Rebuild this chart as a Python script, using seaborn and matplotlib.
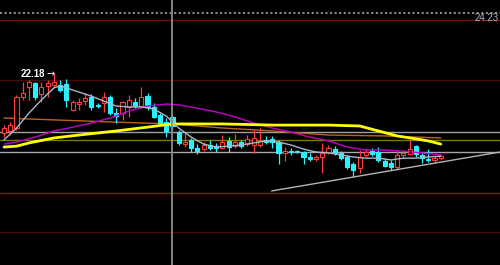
import matplotlib
matplotlib.use("Agg")
import matplotlib.pyplot as plt
import numpy as np
import pandas as pd
import seaborn as sns

# ---------------- data (prices) ----------------
opens = [20.13, 20.20, 20.30, 21.36, 21.70, 21.84, 21.46, 21.74, 21.77, 21.77,
         21.80, 20.91, 21.12, 21.22, 21.36, 21.09, 21.15, 21.36, 20.81, 20.81,
         21.02, 21.19, 21.05, 21.39, 21.02, 20.74, 20.50, 20.68, 20.16, 19.75,
         19.89, 19.62, 19.58, 19.72, 19.68, 19.62, 19.86, 19.68, 19.82, 19.75,
         19.72, 19.72, 19.89, 19.92, 19.82, 19.45, 19.51, 19.51, 19.48, 19.31,
         19.24, 19.31, 19.48, 19.58, 19.45, 19.31, 19.07, 18.93, 19.38, 19.51,
         19.48, 19.17, 19.10, 18.97, 19.38, 19.41, 19.68, 19.38, 19.24, 19.21,
         19.27]
closes = [20.30, 20.40, 21.36, 21.50, 21.87, 21.36, 21.70, 21.84, 21.87, 21.60,
          21.26, 21.19, 21.19, 21.32, 21.02, 21.05, 21.36, 20.81, 20.71, 21.19,
          21.26, 21.05, 21.36, 21.02, 20.68, 20.47, 20.20, 20.37, 19.79, 19.82,
          19.62, 19.51, 19.72, 19.62, 19.62, 19.82, 19.65, 19.82, 19.68, 19.92,
          19.96, 19.86, 19.82, 19.82, 19.45, 19.51, 19.48, 19.48, 19.31, 19.24,
          19.31, 19.45, 19.62, 19.45, 19.27, 18.97, 18.86, 19.31, 19.48, 19.41,
          19.21, 19.00, 18.97, 19.38, 19.45, 19.58, 19.41, 19.27, 19.21, 19.27,
          19.34]
highs = [20.40, 20.50, 21.43, 21.87, 21.94, 21.87, 21.87, 21.94, 22.18, 21.94,
         21.97, 21.26, 21.32, 21.50, 21.46, 21.15, 21.53, 21.43, 20.98, 21.22,
         21.43, 21.32, 21.70, 21.50, 21.15, 20.81, 20.64, 20.78, 20.23, 20.13,
         19.96, 19.75, 19.82, 19.89, 19.79, 20.06, 19.99, 20.09, 19.89, 20.06,
         20.27, 20.30, 20.03, 20.03, 19.89, 19.65, 19.62, 19.55, 19.51, 19.45,
         19.38, 19.79, 19.72, 19.68, 19.51, 19.38, 19.14, 19.55, 19.62, 19.62,
         19.65, 19.27, 19.21, 19.55, 19.55, 19.89, 19.72, 19.45, 19.58, 19.34,
         19.38]
lows = [19.99, 20.06, 20.23, 21.26, 21.26, 21.26, 21.19, 21.36, 21.70, 21.53,
        21.02, 20.88, 20.91, 21.09, 20.91, 20.98, 20.85, 20.74, 20.47, 20.57,
        20.68, 20.98, 20.98, 20.91, 20.64, 20.40, 19.99, 20.23, 19.72, 19.65,
        19.48, 19.41, 19.51, 19.55, 19.48, 19.58, 19.48, 19.62, 19.62, 19.68,
        19.45, 19.65, 19.75, 19.62, 19.07, 19.17, 19.38, 19.45, 19.07, 19.17,
        19.17, 18.76, 19.41, 19.38, 19.21, 18.90, 18.62, 18.76, 19.31, 19.34,
        19.14, 18.97, 18.86, 18.86, 19.27, 19.38, 19.31, 19.10, 19.14, 19.10,
        19.21]

# moving averages (sampled at candle indices)
ma_gray_idx = [0, 2, 4, 6, 8, 9, 10, 12, 14, 16, 18, 20, 22, 24, 26, 28, 30, 32, 34,
               36, 38, 40, 42, 44, 46, 48, 50, 52, 54, 56, 58, 60, 62, 64, 66, 68, 70]
ma_gray = [19.89, 20.30, 20.81, 21.26, 21.67, 21.74, 21.67, 21.53, 21.39, 21.22,
           21.05, 21.02, 21.02, 20.95, 20.71, 20.30, 19.99, 19.75, 19.65, 19.68,
           19.72, 19.79, 19.86, 19.82, 19.72, 19.58, 19.48, 19.45, 19.38, 19.31,
           19.27, 19.27, 19.21, 19.27, 19.27, 19.31, 19.34]
ma_magenta_idx = [0, 2, 5, 8, 11, 14, 17, 20, 23, 26, 28, 31, 34, 37, 40, 43, 46, 49,
                  52, 55, 58, 61, 64, 67, 70]
ma_magenta = [19.75, 19.82, 19.99, 20.20, 20.33, 20.47, 20.64, 20.88, 21.05, 21.12,
              21.09, 20.98, 20.85, 20.68, 20.47, 20.30, 20.16, 19.99, 19.86, 19.65,
              19.55, 19.55, 19.51, 19.45, 19.38]
ma_yellow_idx = [0, 2, 4, 8, 12, 18, 23, 27, 35, 43, 52, 57, 60, 63, 66, 68, 70]
ma_yellow = [19.65, 19.68, 19.79, 19.96, 20.06, 20.20, 20.33, 20.44, 20.44, 20.40,
             20.40, 20.37, 20.20, 20.03, 19.93, 19.86, 19.75]
ma_orange_idx = [0, 9, 18, 27, 35, 43, 52, 61, 70]
ma_orange = [20.64, 20.57, 20.50, 20.44, 20.30, 20.20, 20.06, 20.03, 19.96]

# horizontal reference levels
level_prices = [24.23, 23.99, 21.94, 18.08, 16.75, 20.16, 19.89, 19.48]
level_colors = ['#8a8a8a', '#6e0c0c', '#4a0808', '#9a1010', '#4a0808',
                '#a0a0a0', '#7a7a00', '#a8a8a8']
level_styles = ['dotted', 'solid', 'solid', 'solid', 'solid', 'solid', 'solid', 'solid']

# trend line and cross-hair
trend_x = [42.9, 79.5]
trend_y = [18.15, 19.48]
cursor_idx = 27
high_label = "22.18"
last_label = "24.23"

# ---------------- drawing ----------------
sns.set_style("dark", {"axes.facecolor": "black", "figure.facecolor": "black"})
plt.rcParams['font.family'] = ['Liberation Sans', 'DejaVu Sans']

fig = plt.figure(figsize=(5, 2.65), dpi=100, facecolor='black')
ax = fig.add_axes([0, 0, 1, 1])
ax.set_facecolor('black')

n = len(opens)
idx = np.arange(n)
df = pd.DataFrame({"i": idx, "open": opens, "close": closes, "high": highs, "low": lows})

# levels
for p, c, s in zip(level_prices, level_colors, level_styles):
    if s == 'dotted':
        ax.axhline(p, color=c, lw=1.5, ls=(0, (1, 1.2)), zorder=1)
    else:
        ax.axhline(p, color=c, lw=1.0, zorder=1)

# cursor
ax.axvline(cursor_idx, color='#8c8c8c', lw=1.3, zorder=5)

red = '#ff3c3c'
cyan = '#28f0ff'
w = 0.66
for _, r in df.iterrows():
    up = r.close >= r.open
    col = red if up else cyan
    top = max(r.open, r.close)
    bot = min(r.open, r.close)
    ax.vlines(r.i, r.low, r.high, color=col, lw=0.9, zorder=3)
    if top - bot < 0.025:
        ax.hlines((top + bot) / 2, r.i - w / 2, r.i + w / 2, color=col, lw=1.4, zorder=3.5)
    else:
        ax.bar(r.i, top - bot, bottom=bot, width=w,
               color='black' if up else cyan, edgecolor=col, lw=0.8, zorder=3.5)

# moving averages
sns.lineplot(x=ma_orange_idx, y=ma_orange, ax=ax, color='#c0601a', lw=1.0,
             estimator=None, sort=False, legend=False, zorder=2)
sns.lineplot(x=ma_magenta_idx, y=ma_magenta, ax=ax, color='#c000c8', lw=1.0,
             estimator=None, sort=False, legend=False, zorder=4)
sns.lineplot(x=ma_yellow_idx, y=ma_yellow, ax=ax, color='#ffff00', lw=2.0,
             estimator=None, sort=False, legend=False, zorder=4)
sns.lineplot(x=ma_gray_idx, y=ma_gray, ax=ax, color='#aab6cc', lw=1.0,
             estimator=None, sort=False, legend=False, zorder=4)
sns.lineplot(x=trend_x, y=trend_y, ax=ax, color='#b4b4b4', lw=1.0,
             estimator=None, sort=False, legend=False, zorder=4)

# labels
ax.text(2.6, highs[8] - 0.05, high_label, color='white', fontsize=7,
        fontweight='bold', va='center', ha='left', zorder=6)
ax.text(6.85, highs[8] - 0.03, "\u2192", color='white', fontsize=7,
        family='DejaVu Sans', va='center', ha='left', zorder=6)
ax.text(79.2, level_prices[0] - 0.16, last_label, color='#b0b4c0', fontsize=7,
        va='center', ha='right', zorder=6)

ax.set_xlim(-0.64, 79.49)
ax.set_ylim(15.62, 24.674)
ax.set_xticks([])
ax.set_yticks([])
for s in ax.spines.values():
    s.set_visible(False)

fig.savefig("out.png", dpi=100, facecolor='black')
